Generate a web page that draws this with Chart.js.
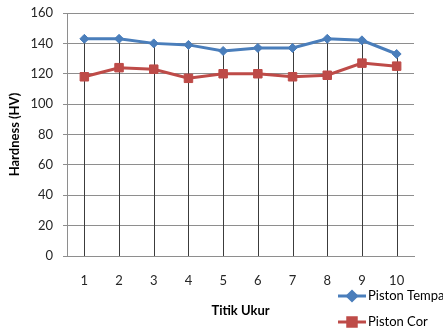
<!DOCTYPE html>
<html>
<head>
<meta charset="utf-8">
<script src="https://cdn.jsdelivr.net/npm/chart.js@4/dist/chart.umd.min.js"></script>
<style>
  html, body { margin: 0; padding: 0; background: #fff; }
  #wrap { width: 443px; height: 331px; }
</style>
</head>
<body>
<div id="wrap"><canvas id="c" width="443" height="331"></canvas></div>
<script>
// Measurement points and hardness readings (HV)
const categories = ['1', '2', '3', '4', '5', '6', '7', '8', '9', '10'];
const pistonTempa = [143, 143, 140, 139, 135, 137, 137, 143, 142, 133];
const pistonCor = [118, 124, 123, 117, 120, 120, 118, 119, 127, 125];
const seriesNames = ['Piston Tempa', 'Piston Cor'];
const yMin = 0, yMax = 160, yStep = 20;

const FONT = 'Lato, "Open Sans", "Liberation Sans", sans-serif';
const BLUE = '#4A7EBB';
const RED = '#BE4B48';
const GRID = '#8E8E8E';

// Vertical drop lines from the highest point of each category down to the x axis
const dropLines = {
  id: 'dropLines',
  beforeDatasetsDraw(chart) {
    const ctx = chart.ctx;
    const bottom = chart.chartArea.bottom;
    const metas = chart.data.datasets.map((d, i) => chart.getDatasetMeta(i));
    ctx.save();
    ctx.strokeStyle = '#3C3C3C';
    ctx.lineWidth = 1;
    categories.forEach((c, idx) => {
      let top = Infinity, x = 0;
      metas.forEach(m => {
        const p = m.data[idx];
        if (p && p.y < top) { top = p.y; x = p.x; }
      });
      const px = Math.round(x) + 0.5;
      ctx.beginPath();
      ctx.moveTo(px, top);
      ctx.lineTo(px, bottom);
      ctx.stroke();
    });
    ctx.restore();
  }
};

// Legend in the lower right corner
const cornerLegend = {
  id: 'cornerLegend',
  afterDraw(chart) {
    const ctx = chart.ctx;
    const rows = [296, 322];
    chart.data.datasets.forEach((ds, i) => {
      const y = rows[i];
      ctx.save();
      ctx.strokeStyle = ds.borderColor;
      ctx.lineWidth = 3;
      ctx.beginPath();
      ctx.moveTo(338, y);
      ctx.lineTo(366, y);
      ctx.stroke();
      Chart.helpers.drawPoint(ctx, {
        pointStyle: ds.pointStyle,
        radius: ds.pointRadius,
        borderWidth: 1
      }, 352, y);
      ctx.fillStyle = ds.pointBackgroundColor;
      ctx.strokeStyle = ds.pointBorderColor;
      ctx.fill();
      ctx.fillStyle = '#000';
      ctx.font = '13px ' + FONT;
      ctx.textBaseline = 'middle';
      ctx.textAlign = 'left';
      ctx.fillText(ds.label, 368, y);
      ctx.restore();
    });
  }
};

new Chart(document.getElementById('c'), {
  type: 'line',
  data: {
    labels: categories,
    datasets: [
      {
        label: seriesNames[0],
        data: pistonTempa,
        borderColor: BLUE,
        backgroundColor: BLUE,
        borderWidth: 3,
        pointStyle: 'rectRot',
        pointRadius: 4.5,
        pointBackgroundColor: BLUE,
        pointBorderColor: BLUE,
        pointBorderWidth: 1,
        tension: 0
      },
      {
        label: seriesNames[1],
        data: pistonCor,
        borderColor: RED,
        backgroundColor: RED,
        borderWidth: 3,
        pointStyle: 'rect',
        pointRadius: 6,
        pointBackgroundColor: RED,
        pointBorderColor: RED,
        pointBorderWidth: 1,
        tension: 0
      }
    ]
  },
  options: {
    responsive: false,
    animation: false,
    devicePixelRatio: 1,
    layout: { padding: { left: 0, top: 13, right: 29, bottom: 0 } },
    plugins: {
      legend: { display: false },
      tooltip: { enabled: false }
    },
    scales: {
      x: {
        offset: true,
        grid: { display: true, color: 'rgba(0,0,0,0)', drawTicks: false, offset: true },
        border: { display: true, color: GRID, width: 1 },
        ticks: { color: '#262626', font: { family: FONT, size: 13 }, padding: 17, maxRotation: 0 },
        title: {
          display: true, text: 'Titik Ukur', color: '#000',
          font: { family: FONT, size: 13, weight: 'bold' },
          padding: { top: 0, bottom: 12 }
        },
        afterFit(s) { s.height = 75; s.paddingLeft = 0; s.paddingRight = 0; }
      },
      y: {
        min: yMin, max: yMax,
        grid: { color: GRID, lineWidth: 1, tickLength: 4 },
        border: { display: true, color: GRID, width: 1 },
        ticks: { stepSize: yStep, color: '#262626', font: { family: FONT, size: 13 }, padding: 10 },
        title: {
          display: true, text: 'Hardness (HV)', color: '#000',
          font: { family: FONT, size: 13, weight: 'bold' },
          padding: { top: 7, bottom: 0 }
        },
        afterFit(s) { s.width = 67; s.paddingTop = 0; s.paddingBottom = 0; }
      }
    }
  },
  plugins: [dropLines, cornerLegend]
});
</script>
</body>
</html>
